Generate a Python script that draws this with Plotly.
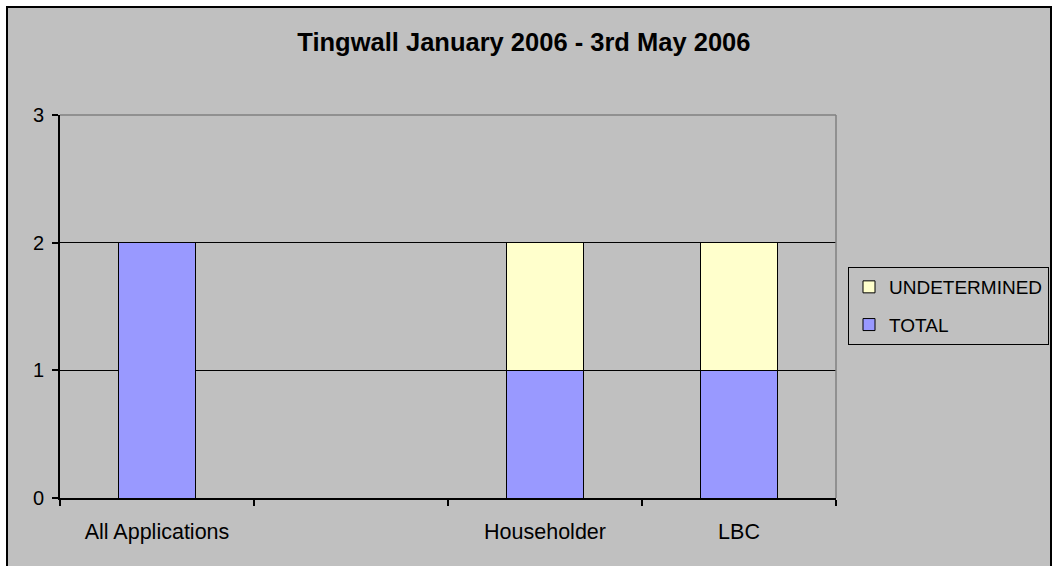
import plotly.graph_objects as go

categories = ["All Applications", " ", "Householder", "LBC"]
total = [2, None, 1, 1]
undetermined = [None, None, 1, 1]
y_ticks = [0, 1, 2, 3]
title_text = "Tingwall January 2006 - 3rd May 2006"

FONT = "Liberation Sans, Arial, sans-serif"
W, H = 1052, 566
L, R, T, B = 60, 216, 115, 68
pw = W - L - R
ph = H - T - B

def px_to_paper_x(px):
    return (px - L) / pw

def px_to_paper_y(py):
    return (H - B - py) / ph

fig = go.Figure()
fig.add_trace(go.Bar(
    x=categories, y=total, name="TOTAL", legendgroup="a", legendrank=2,
    marker=dict(color="#9999FF", line=dict(color="black", width=1)),
))
fig.add_trace(go.Bar(
    x=categories, y=undetermined, name="UNDETERMINED", legendgroup="b", legendrank=1,
    marker=dict(color="#FFFFCC", line=dict(color="black", width=1)),
))

shapes = [
    # outer chart border
    dict(type="rect", xref="paper", yref="paper",
         x0=px_to_paper_x(7), x1=px_to_paper_x(1051),
         y0=px_to_paper_y(600), y1=px_to_paper_y(7),
         fillcolor="#C0C0C0", line=dict(color="black", width=2), layer="below"),
    # plot area border top and right (gray)
    dict(type="line", xref="paper", yref="paper", x0=0, x1=1, y0=1, y1=1,
         line=dict(color="#808080", width=1.5), layer="above"),
    dict(type="line", xref="paper", yref="paper", x0=1, x1=1, y0=0, y1=1,
         line=dict(color="#808080", width=1.5), layer="above"),
]

fig.update_layout(
    width=W, height=H,
    margin=dict(l=L, r=R, t=T, b=B, pad=0, autoexpand=False),
    paper_bgcolor="white",
    plot_bgcolor="rgba(0,0,0,0)",
    barmode="stack",
    bargap=0.6,
    font=dict(family=FONT, color="black", size=20),
    title=dict(text="<b>" + title_text + "</b>", x=0.498, xref="container",
               y=(H - 42) / H, yanchor="middle", xanchor="center",
               font=dict(family=FONT, size=25.5, color="black")),
    showlegend=True,
    legend=dict(
        x=px_to_paper_x(848), y=px_to_paper_y(267), xanchor="left", yanchor="top",
        bgcolor="#C0C0C0", bordercolor="black", borderwidth=1,
        font=dict(family=FONT, size=19, color="black"),
        traceorder="grouped", tracegroupgap=10,
    ),
    shapes=shapes,
    xaxis=dict(
        type="category", categoryorder="array", categoryarray=categories,
        showline=True, linecolor="black", linewidth=2,
        ticks="outside", tickson="boundaries", ticklen=6, tickcolor="black", tickwidth=1.5,
        showgrid=False, zeroline=False,
        tickfont=dict(family=FONT, size=21.5, color="black"),
        ticklabelstandoff=13,
    ),
    yaxis=dict(
        range=[0, 3], tickvals=y_ticks, ticktext=[str(v) for v in y_ticks],
        showline=True, linecolor="black", linewidth=2,
        ticks="outside", ticklen=6, tickcolor="black", tickwidth=1.5,
        showgrid=True, gridcolor="black", gridwidth=1,
        zeroline=False,
        tickfont=dict(family=FONT, size=20, color="black"),
        ticklabelstandoff=4,
    ),
)

fig.write_html("out.html", config={"displayModeBar": False},
               post_script="document.body.style.margin='0';")
